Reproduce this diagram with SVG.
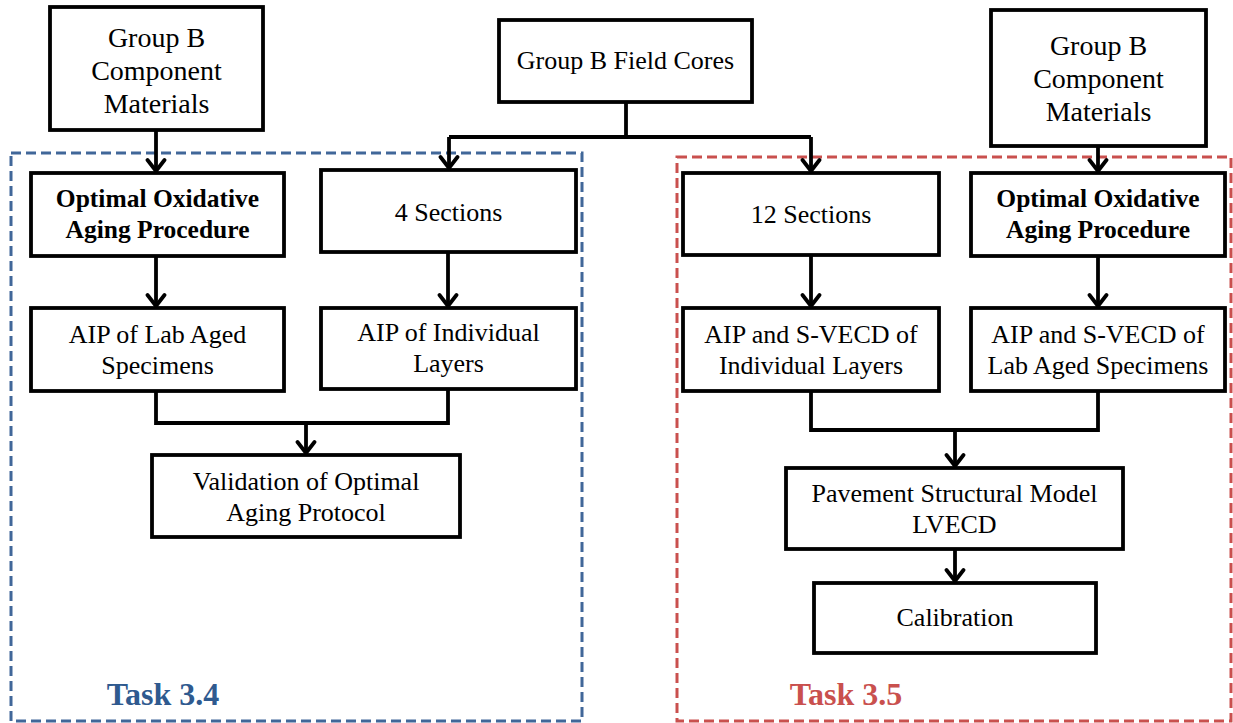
<svg xmlns="http://www.w3.org/2000/svg" width="1233" height="723" viewBox="0 0 1233 723">
  <style>
    .box { fill: #ffffff; stroke: #000000; stroke-width: 3.8; }
    .t { font-family: "Liberation Serif", "Times New Roman", serif; font-size: 26px; fill: #000000; text-anchor: middle; }
    .big { font-size: 28px; }
    .b { font-family: "Liberation Serif", "Times New Roman", serif; font-size: 25.5px; font-weight: bold; fill: #000000; text-anchor: middle; }
    .wire { fill: none; stroke: #000000; stroke-width: 3.8; stroke-linejoin: miter; }
    .arrow { fill: none; stroke: #000000; stroke-width: 3.8; marker-end: url(#chev); }
    .task { fill: none; stroke-width: 3; stroke-dasharray: 10 5; }
    .label { font-family: "Liberation Serif", "Times New Roman", serif; font-size: 32px; font-weight: bold; }
  </style>
  <defs>
    <marker id="chev" markerUnits="userSpaceOnUse" viewBox="-14 -11 16 22" refX="0" refY="0" markerWidth="16" markerHeight="22" orient="auto">
      <path d="M-11,-8.5 L0,0 L-11,8.5" fill="none" stroke="#000000" stroke-width="3.8" stroke-linecap="round" stroke-linejoin="round"/>
    </marker>
  </defs>

  <rect width="1233" height="723" fill="#ffffff"/>

  <!-- task frames -->
  <g id="task34">
    <rect class="task" x="11" y="153" width="571" height="568" stroke="#416799"/>
    <text class="label" x="163" y="705" text-anchor="middle" fill="#2F5A8F">Task 3.4</text>
  </g>
  <g id="task35">
    <rect class="task" x="677" y="157" width="554" height="564" stroke="#C9504E"/>
    <text class="label" x="846" y="705" text-anchor="middle" fill="#C9504E">Task 3.5</text>
  </g>

  <!-- connectors -->
  <g id="connectors">
    <path class="arrow" d="M156,130 V171"/>
    <path class="arrow" d="M1098,146 V171"/>
    <path class="wire" d="M626,102 V137"/>
    <path class="wire" d="M449,137 H811"/>
    <path class="arrow" d="M449,137 V168"/>
    <path class="arrow" d="M811,137 V171"/>
    <path class="arrow" d="M156,256 V306"/>
    <path class="arrow" d="M448,252 V306"/>
    <path class="arrow" d="M811,255 V306"/>
    <path class="arrow" d="M1098,256 V306"/>
    <path class="wire" d="M156,391 V423 H448 V389"/>
    <path class="arrow" d="M306,423 V453"/>
    <path class="wire" d="M811,391 V430 H1098 V391"/>
    <path class="arrow" d="M955,430 V466"/>
    <path class="arrow" d="M955,549 V581"/>
  </g>

  <!-- nodes -->
  <g id="components-left">
    <rect class="box" x="50" y="7" width="213" height="123"/>
    <text class="t big" x="156.5" y="47">Group B</text>
    <text class="t big" x="156.5" y="80">Component</text>
    <text class="t big" x="156.5" y="113">Materials</text>
  </g>
  <g id="field-cores">
    <rect class="box" x="499" y="20" width="253" height="82"/>
    <text class="t" x="625.5" y="69">Group B Field Cores</text>
  </g>
  <g id="components-right">
    <rect class="box" x="991" y="10" width="215" height="136"/>
    <text class="t big" x="1098.5" y="55">Group B</text>
    <text class="t big" x="1098.5" y="88">Component</text>
    <text class="t big" x="1098.5" y="121">Materials</text>
  </g>
  <g id="aging-left">
    <rect class="box" x="31" y="173" width="253" height="83"/>
    <text class="b" x="157.5" y="207">Optimal Oxidative</text>
    <text class="b" x="157.5" y="238">Aging Procedure</text>
  </g>
  <g id="sections-4">
    <rect class="box" x="321" y="170" width="255" height="82"/>
    <text class="t" x="448.5" y="221">4 Sections</text>
  </g>
  <g id="sections-12">
    <rect class="box" x="683" y="173" width="256" height="82"/>
    <text class="t" x="811" y="223">12 Sections</text>
  </g>
  <g id="aging-right">
    <rect class="box" x="971" y="173" width="254" height="83"/>
    <text class="b" x="1098" y="207">Optimal Oxidative</text>
    <text class="b" x="1098" y="238">Aging Procedure</text>
  </g>
  <g id="aip-lab">
    <rect class="box" x="31" y="308" width="253" height="83"/>
    <text class="t" x="157.5" y="343">AIP of Lab Aged</text>
    <text class="t" x="157.5" y="374">Specimens</text>
  </g>
  <g id="aip-layers">
    <rect class="box" x="321" y="308" width="255" height="81"/>
    <text class="t" x="448.5" y="341">AIP of Individual</text>
    <text class="t" x="448.5" y="372">Layers</text>
  </g>
  <g id="svecd-layers">
    <rect class="box" x="683" y="308" width="256" height="83"/>
    <text class="t" x="811" y="343">AIP and S-VECD of</text>
    <text class="t" x="811" y="374">Individual Layers</text>
  </g>
  <g id="svecd-lab">
    <rect class="box" x="971" y="308" width="254" height="83"/>
    <text class="t" x="1098" y="343">AIP and S-VECD of</text>
    <text class="t" x="1098" y="374">Lab Aged Specimens</text>
  </g>
  <g id="validation">
    <rect class="box" x="152" y="455" width="308" height="82"/>
    <text class="t" x="306" y="490">Validation of Optimal</text>
    <text class="t" x="306" y="521">Aging Protocol</text>
  </g>
  <g id="pavement-model">
    <rect class="box" x="786" y="468" width="337" height="81"/>
    <text class="t" x="954.5" y="502">Pavement Structural Model</text>
    <text class="t" x="954.5" y="533">LVECD</text>
  </g>
  <g id="calibration">
    <rect class="box" x="814" y="583" width="282" height="70"/>
    <text class="t" x="955" y="626">Calibration</text>
  </g>
</svg>
